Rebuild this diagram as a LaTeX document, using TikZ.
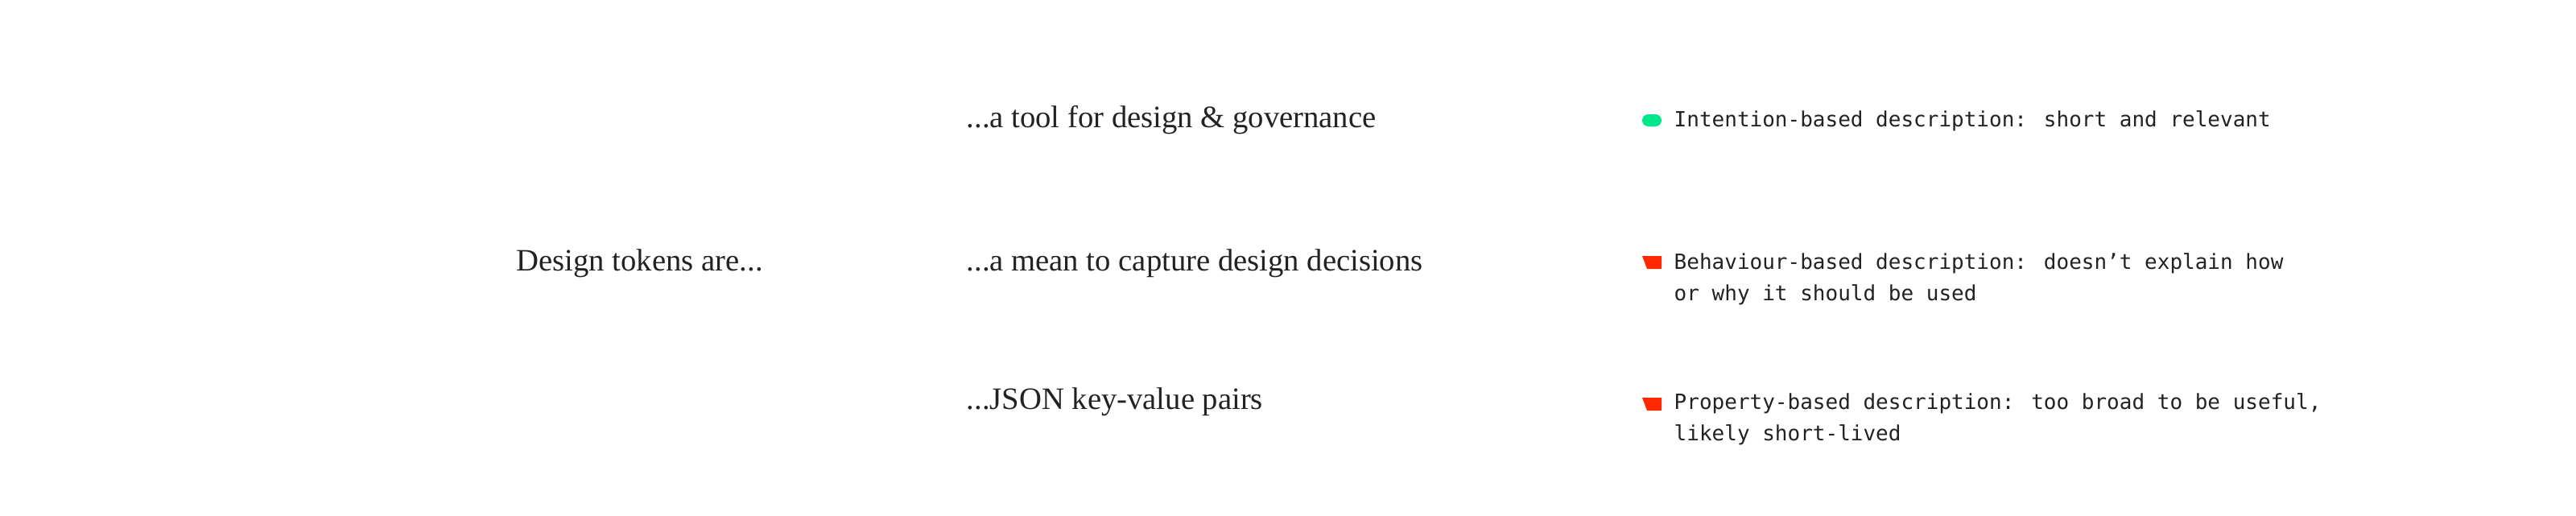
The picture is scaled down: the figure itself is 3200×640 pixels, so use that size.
\documentclass[tikz,border=0pt]{standalone}
\usepackage{fontspec}
\setmainfont{Liberation Serif}
\newfontfamily\codefont{DejaVu Sans Mono}
\usepackage{tikz}
\definecolor{ink}{HTML}{222222}
\definecolor{okgreen}{HTML}{00E68A}
\definecolor{badred}{HTML}{FF2A00}

\begin{document}
\begin{tikzpicture}[x=0.1mm,y=-0.1mm,
  every node/.style={inner sep=0,text=ink},
  claim/.style={anchor=base west,font=\fontsize{11}{13}\selectfont},
  note/.style={anchor=base west,align=left,font=\codefont\fontsize{7.4}{11.2}\selectfont}]
\useasboundingbox (0,0) rectangle (3200,640);
\node[claim] (intro) at (641,336) {Design tokens are...};
\node[claim] (tool) at (1200,158) {...a tool for design \& governance};
\node[claim] (mean) at (1200,336) {...a mean to capture design decisions};
\node[claim] (json) at (1200,508) {...JSON key-value pairs};
% markers
\node[fill=okgreen,rounded corners=0.75mm,minimum width=2.4mm,minimum height=1.5mm] (pill) at (2052,149.5) {};
\coordinate (warn1) at (2040,318);
\coordinate (warn2) at (2040,494);
\fill[badred] (warn1) -- ++(24,0) -- ++(0,16) -- ++(-18,0) -- cycle;
\fill[badred] (warn2) -- ++(24,0) -- ++(0,16) -- ++(-18,0) -- cycle;
% two-line notes sit on the baseline of their last line
\node[note] (good) at (2079,157) {Intention-based description: short and relevant};
\node[note] (behave) at (2079,373.4) {Behaviour-based description: doesn’t explain how\\or why it should be used};
\node[note] (prop) at (2079,547.4) {Property-based description: too broad to be useful,\\likely short-lived};
\end{tikzpicture}
\end{document}
